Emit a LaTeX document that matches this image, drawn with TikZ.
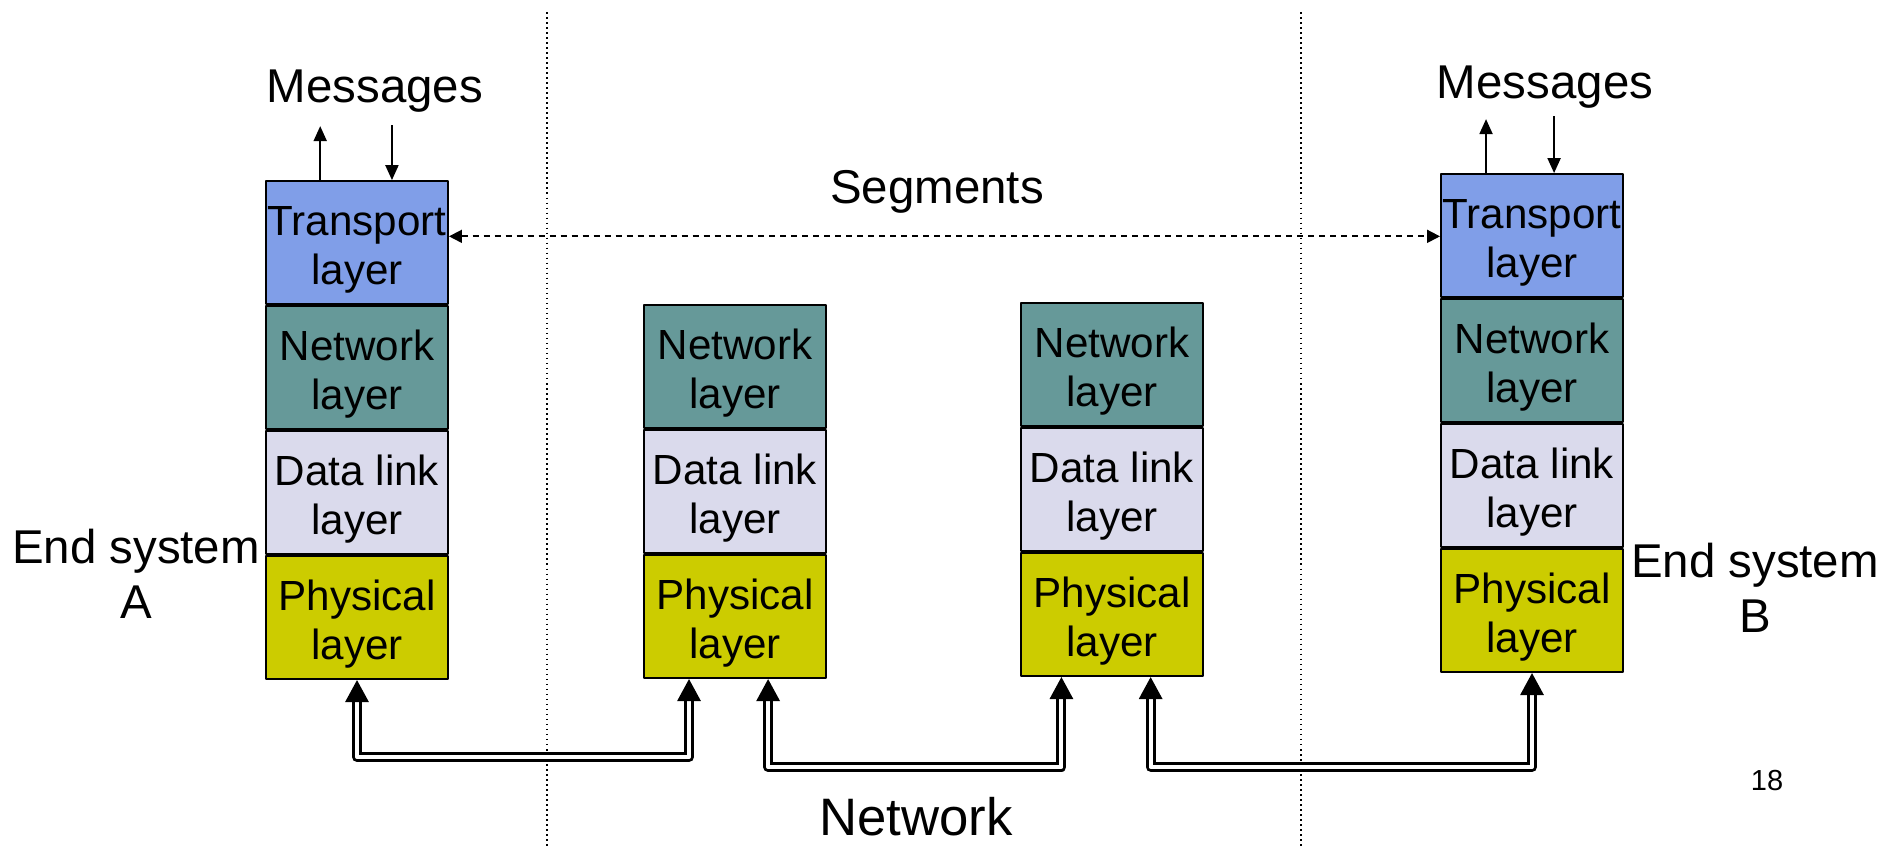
\documentclass[tikz,border=0pt]{standalone}
\usepackage{fontspec}
\setmainfont{Liberation Sans}
\usetikzlibrary{positioning,arrows.meta,calc}
\definecolor{transp}{RGB}{128,158,232}
\definecolor{netw}{RGB}{102,153,153}
\definecolor{dlink}{RGB}{218,218,236}
\definecolor{phys}{RGB}{204,204,0}
\newcommand{\lyr}[1]{\rule{0pt}{25pt}#1\\layer}
\begin{document}
\begin{tikzpicture}[x=0.02cm, y=-0.02cm, line join=round,
	lay/.style={draw, line width=0.04cm, minimum width=3.64cm, minimum height=2.46cm, inner sep=0pt, align=center, font=\fontsize{24}{28}\selectfont},
	msg/.style={line width=0.04cm, -{Triangle[width=0.26cm,length=0.3cm]}},
	seg/.style={line width=0.035cm, dash pattern=on 0.12cm off 0.1cm, {Triangle[width=0.26cm,length=0.26cm]}-{Triangle[width=0.26cm,length=0.26cm]}},
	link/.style={double, line width=0.06cm, double distance=0.08cm, {Triangle[width=0.46cm,length=0.44cm]}-{Triangle[width=0.46cm,length=0.44cm]}},
	big/.style={font=\fontsize{27}{31}\selectfont, align=center}]
	\useasboundingbox (0,0) rectangle (1885,849);
	\draw[dotted, line width=0.03cm] (547,12) -- (547,849);
	\draw[dotted, line width=0.03cm] (1301,12) -- (1301,849);

	\node[lay, fill=phys, anchor=south] (phyA) at (357,680) {\lyr{Physical}};
	\node[lay, fill=dlink, above=0pt of phyA] (dllA) {\lyr{Data link}};
	\node[lay, fill=netw, above=0pt of dllA] (netA) {\lyr{Network}};
	\node[lay, fill=transp, above=0pt of netA] (transA) {\lyr{Transport}};

	\node[lay, fill=phys, anchor=south] (phy2) at (735,679) {\lyr{Physical}};
	\node[lay, fill=dlink, above=0pt of phy2] (dll2) {\lyr{Data link}};
	\node[lay, fill=netw, above=0pt of dll2] (net2) {\lyr{Network}};

	\node[lay, fill=phys, anchor=south] (phy3) at (1112,677) {\lyr{Physical}};
	\node[lay, fill=dlink, above=0pt of phy3] (dll3) {\lyr{Data link}};
	\node[lay, fill=netw, above=0pt of dll3] (net3) {\lyr{Network}};

	\node[lay, fill=phys, anchor=south] (phyB) at (1532,673) {\lyr{Physical}};
	\node[lay, fill=dlink, above=0pt of phyB] (dllB) {\lyr{Data link}};
	\node[lay, fill=netw, above=0pt of dllB] (netB) {\lyr{Network}};
	\node[lay, fill=transp, above=0pt of netB] (transB) {\lyr{Transport}};

	\node[big] (msgA) at (375,91) {Messages};
	\node[big] (msgB) at (1545,87) {Messages};
	\node[big] (segs) at (937,192) {Segments};
	\node[big] (endA) at (136,574) {End system\\A};
	\node[big] (endB) at (1755,588) {End system\\B};
	\node[font=\fontsize{30}{34}\selectfont] (netw) at (916,817) {Network};
	\node[font=\fontsize{16.5}{20}\selectfont] (pnum) at (1767,781) {18};

	\coordinate (upA) at ($(transA.north west)!0.3!(transA.north east)$);
	\coordinate (dnA) at ($(transA.north west)!0.69!(transA.north east)$);
	\coordinate (upB) at ($(transB.north west)!0.25!(transB.north east)$);
	\coordinate (dnB) at ($(transB.north west)!0.62!(transB.north east)$);
	\draw[msg] (upA) -- ([yshift=1.08cm]upA);
	\draw[msg] ([yshift=1.1cm]dnA) -- (dnA);
	\draw[msg] (upB) -- ([yshift=1.08cm]upB);
	\draw[msg] ([yshift=1.14cm]dnB) -- (dnB);

	\coordinate (segA) at ($(transA.north east)!0.45!(transA.south east)$);
	\draw[seg] (segA) -- (segA -| transB.west);

	\coordinate (a2) at ($(phy2.south west)!0.25!(phy2.south east)$);
	\coordinate (b2) at ($(phy2.south west)!0.68!(phy2.south east)$);
	\coordinate (a3) at ($(phy3.south west)!0.225!(phy3.south east)$);
	\coordinate (b3) at ($(phy3.south west)!0.71!(phy3.south east)$);
	\draw[link] (phyA.south) -- ++(0,77) -| (a2);
	\draw[link] (b2) -- ++(0,88) -| (a3);
	\draw[link] (b3) -- ++(0,90) -| (phyB.south);
\end{tikzpicture}
\end{document}
